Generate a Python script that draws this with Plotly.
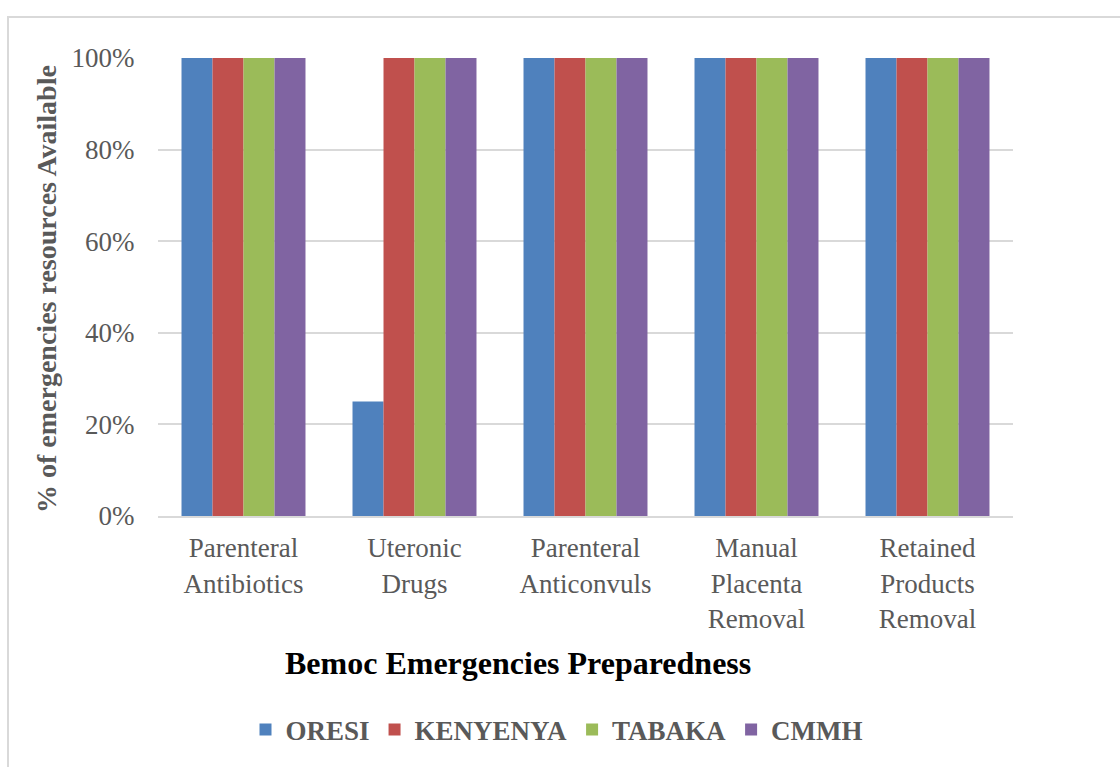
import plotly.graph_objects as go

categories = [
    "Parenteral<br>Antibiotics",
    "Uteronic<br>Drugs",
    "Parenteral<br>Anticonvuls",
    "Manual<br>Placenta<br>Removal",
    "Retained<br>Products<br>Removal",
]
oresi = [1.00, 0.25, 1.00, 1.00, 1.00]
kenyenya = [1.00, 1.00, 1.00, 1.00, 1.00]
tabaka = [1.00, 1.00, 1.00, 1.00, 1.00]
cmmh = [1.00, 1.00, 1.00, 1.00, 1.00]

series = [
    ("ORESI", oresi, "#4F81BD"),
    ("KENYENYA", kenyenya, "#C0504D"),
    ("TABAKA", tabaka, "#9BBB59"),
    ("CMMH", cmmh, "#8064A2"),
]

FONT = "Liberation Serif"
GRAY = "#595959"
GRID = "#d9d9d9"

fig = go.Figure()
for name, vals, color in series:
    fig.add_trace(go.Bar(
        name=name, x=categories, y=vals,
        marker=dict(color=color, line=dict(width=0)),
    ))

# plot area geometry in pixels
L, R, T, B = 158, 1013, 58, 516
W, H = 1120, 767
pw, ph = R - L, B - T

def px_x(x):
    return (x - L) / pw

def px_y(y):
    return (B - y) / ph

fig.update_layout(
    width=W, height=H,
    margin=dict(l=L, r=W - R, t=T, b=H - B, pad=0),
    paper_bgcolor="white", plot_bgcolor="white",
    barmode="group", bargap=0.275, bargroupgap=0,
    font=dict(family=FONT, color=GRAY, size=27),
    showlegend=True,
    legend=dict(
        orientation="h", xanchor="center", yanchor="middle",
        x=px_x(557), y=px_y(730),
        font=dict(family=FONT, size=27, color=GRAY, weight="bold"),
        itemwidth=30, itemsizing="constant", traceorder="normal",
        bgcolor="rgba(0,0,0,0)",
    ),
    xaxis=dict(
        showgrid=False, showline=True, linecolor=GRID, linewidth=2,
        ticks="outside", ticklen=7, tickcolor="rgba(0,0,0,0)",
        tickfont=dict(family=FONT, size=27, color=GRAY),
        fixedrange=True,
    ),
    yaxis=dict(
        range=[0, 1.0], tickvals=[0, 0.2, 0.4, 0.6, 0.8, 1.0],
        tickformat=".0%", showgrid=True, gridcolor=GRID, gridwidth=2,
        zeroline=False, showline=False,
        ticks="outside", ticklen=17, tickcolor="rgba(0,0,0,0)",
        tickfont=dict(family=FONT, size=27, color=GRAY),
        fixedrange=True,
    ),
    annotations=[
        dict(
            text="<b>% of emergencies resources Available</b>",
            xref="paper", yref="paper", x=px_x(46), y=px_y(289),
            xanchor="center", yanchor="middle", textangle=-90,
            showarrow=False, font=dict(family=FONT, size=28, color=GRAY),
        ),
        dict(
            text="<b>Bemoc Emergencies Preparedness</b>",
            xref="paper", yref="paper", x=px_x(518), y=px_y(663),
            xanchor="center", yanchor="middle",
            showarrow=False, font=dict(family=FONT, size=32, color="black"),
        ),
    ],
    shapes=[
        dict(
            type="rect", xref="paper", yref="paper",
            x0=px_x(8), x1=px_x(1140), y0=px_y(790), y1=px_y(17),
            line=dict(color=GRID, width=2), fillcolor="rgba(0,0,0,0)",
            layer="below",
        ),
    ],
)

fig.write_html("out.html")
